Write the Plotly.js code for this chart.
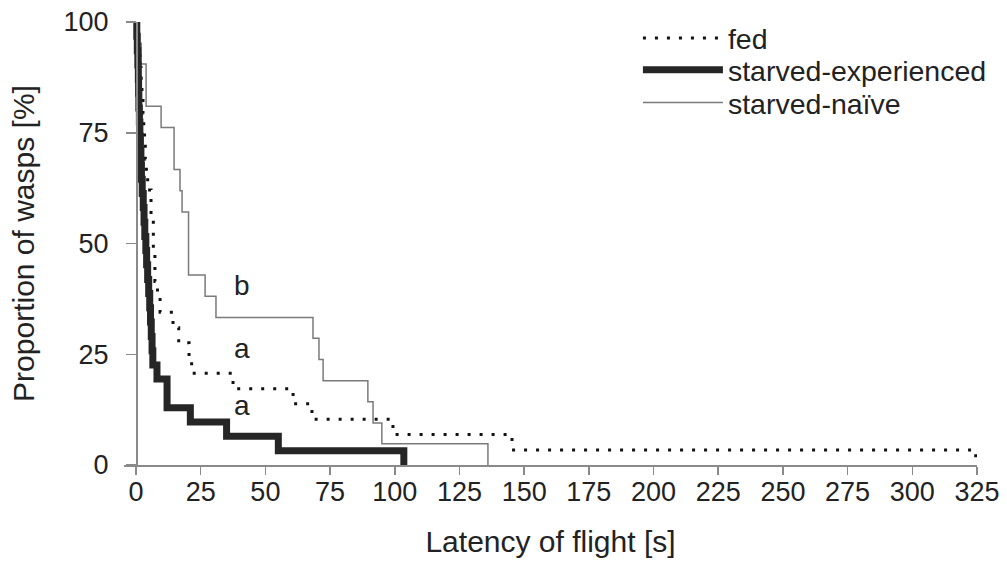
<!DOCTYPE html>
<html>
<head>
<meta charset="utf-8">
<script src="https://cdn.plot.ly/plotly-3.0.1.min.js"></script>
<style>
  html, body { margin: 0; padding: 0; background: #fff; }
  #chart { width: 1007px; height: 573px; }
</style>
</head>
<body>
<div id="chart"></div>
<script>
// Latency of flight (s) at which each drop occurs, and % of wasps not yet flown
const fedTime = [0, 0.5, 1.0, 1.5, 2.0, 2.3, 2.7, 3.0, 3.3, 3.6, 4.0, 4.5, 5.8, 6.7, 7.3, 8.3, 9.3, 14.3, 16.5, 20.5, 21.5, 37.5, 60.7, 68.0, 99.3, 145.3, 324.5];
const fedPct  = [100, 96.6, 93.1, 89.7, 86.2, 82.8, 79.3, 75.9, 72.4, 69.0, 65.5, 62.1, 55.2, 48.3, 41.4, 37.9, 34.5, 31.0, 27.6, 24.1, 20.7, 17.2, 13.8, 10.3, 6.9, 3.4, 0];

const expTime = [0, 0.3, 0.5, 0.7, 0.9, 1.0, 1.1, 1.3, 1.5, 1.7, 1.9, 2.1, 2.4, 2.8, 3.1, 3.4, 3.8, 4.1, 4.5, 4.9, 5.3, 5.6, 5.9, 6.2, 6.5, 8.1, 12.0, 21.0, 35.0, 55.0, 103.5];
const expPct  = [100, 96.8, 93.5, 90.3, 87.1, 83.9, 80.6, 77.4, 74.2, 71.0, 67.7, 64.5, 61.3, 58.1, 54.8, 51.6, 48.4, 45.2, 41.9, 38.7, 35.5, 32.3, 29.0, 25.8, 22.6, 19.4, 12.9, 9.7, 6.5, 3.2, 0];

const naiveTime = [0, 1.0, 2.0, 3.9, 9.7, 14.7, 17.0, 17.8, 20.3, 26.7, 30.9, 68.4, 70.7, 72.3, 89.6, 91.6, 95.0, 136.0];
const naivePct  = [100, 95.2, 90.5, 81.0, 76.2, 66.7, 61.9, 57.1, 42.9, 38.1, 33.3, 28.6, 23.8, 19.0, 14.3, 9.5, 4.8, 0];

const xTicks = [0, 25, 50, 75, 100, 125, 150, 175, 200, 225, 250, 275, 300, 325];
const yTicks = [0, 25, 50, 75, 100];

// Significance letters beside the curves
const letterText = ['b', 'a', 'a'];
const letterX = [41, 41, 41];
const letterY = [40.6, 26.4, 13.5];

const FONT = 'Liberation Sans, Arial, sans-serif';
const INK = '#222';

// One legend box per series so each row sits where it should
function legendBox(yPaper) {
  return {
    x: 0.6025, y: yPaper, xanchor: 'left', yanchor: 'middle',
    itemwidth: 80, borderwidth: 0, bgcolor: 'rgba(0,0,0,0)',
    font: { family: FONT, size: 28.5, color: INK }
  };
}

const traces = [
  {
    x: naiveTime, y: naivePct, name: 'starved-naïve', legend: 'legend3',
    mode: 'lines', line: { shape: 'hv', color: '#7a7a7a', width: 1.5 }
  },
  {
    x: fedTime, y: fedPct, name: 'fed', legend: 'legend',
    mode: 'lines', line: { shape: 'hv', color: '#111', width: 3, dash: '3px,9px' }
  },
  {
    x: expTime, y: expPct, name: 'starved-experienced', legend: 'legend2',
    mode: 'lines', line: { shape: 'hv', color: '#262626', width: 7 }
  }
];

const annotations = letterText.map((t, i) => ({
  x: letterX[i], y: letterY[i], text: t, showarrow: false,
  xanchor: 'center', yanchor: 'middle',
  font: { family: FONT, size: 28, color: INK }
}));

const layout = {
  width: 1007, height: 573,
  margin: { l: 124, r: 30, t: 22, b: 108 },
  paper_bgcolor: '#fff', plot_bgcolor: '#fff',
  showlegend: true,
  legend: legendBox(0.963),
  legend2: legendBox(0.891),
  legend3: legendBox(0.817),
  xaxis: {
    range: [-4.64, 325], tickvals: xTicks, ticktext: xTicks.map(String),
    showgrid: false, zeroline: false,
    showline: true, linecolor: '#8a8a8a', linewidth: 1.5,
    ticks: 'outside', ticklen: 8, tickcolor: '#8a8a8a', tickwidth: 1.5,
    ticklabelstandoff: -6,
    tickfont: { family: FONT, size: 27, color: INK },
    title: { text: 'Latency of flight [s]', font: { family: FONT, size: 30, color: INK }, standoff: 25 }
  },
  yaxis: {
    range: [0, 100], tickvals: yTicks, ticktext: yTicks.map(String),
    anchor: 'free', position: 12 / 853,
    showgrid: false, zeroline: false,
    showline: true, linecolor: '#8a8a8a', linewidth: 1.5,
    ticks: 'outside', ticklen: 10, tickcolor: '#8a8a8a', tickwidth: 1.5,
    ticklabelstandoff: 12,
    tickfont: { family: FONT, size: 27, color: INK },
    title: { text: 'Proportion of wasps [%]', font: { family: FONT, size: 30, color: INK }, standoff: 18 }
  },
  annotations: annotations
};

Plotly.newPlot('chart', traces, layout, { displayModeBar: false, staticPlot: true });
</script>
</body>
</html>
